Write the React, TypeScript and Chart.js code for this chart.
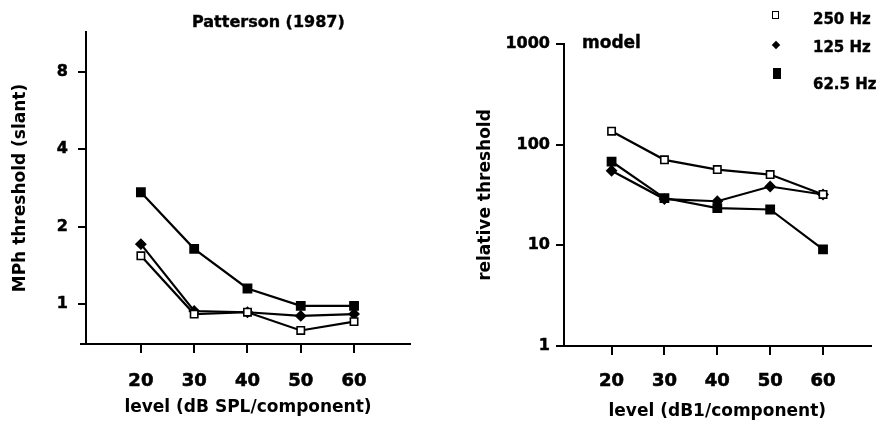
import React, { useEffect, useRef } from 'react';
import { Chart, registerables } from 'chart.js';
Chart.register(...registerables);

// ---- data ----
const levels = [20, 30, 40, 50, 60];
const seriesNames = ['250 Hz', '125 Hz', '62.5 Hz'];
const patterson250 = [1.54, 0.915, 0.93, 0.79, 0.855];
const patterson125 = [1.71, 0.94, 0.93, 0.9, 0.915];
const patterson625 = [2.72, 1.64, 1.15, 0.985, 0.985];
const model250 = [136, 70.7, 56.6, 50.5, 32];
const model125 = [55, 28.8, 27.4, 38.4, 32];
const model625 = [68, 29.5, 23.4, 22.7, 9.1];
const xTickValues = [20, 30, 40, 50, 60];
const pattersonTicks = [1, 2, 4, 8];
const modelTicks = [1, 10, 100, 1000];

const FONT = "'DejaVu Sans', 'Liberation Sans', sans-serif";

function makeDatasets(d250: number[], d125: number[], d625: number[]) {
  const base = {
    borderColor: '#000',
    borderWidth: 2.2,
    pointBorderColor: '#000',
    pointBorderWidth: 1.6,
    tension: 0,
    fill: false,
  };
  return [
    {
      ...base,
      label: seriesNames[0],
      data: levels.map((x, i) => ({ x, y: d250[i] })),
      pointStyle: 'rect',
      pointRadius: 5.2,
      pointBackgroundColor: '#fff',
    },
    {
      ...base,
      label: seriesNames[1],
      data: levels.map((x, i) => ({ x, y: d125[i] })),
      pointStyle: 'rectRot',
      pointRadius: 4.8,
      pointBackgroundColor: '#000',
    },
    {
      ...base,
      label: seriesNames[2],
      data: levels.map((x, i) => ({ x, y: d625[i] })),
      pointStyle: 'rect',
      pointRadius: 5.8,
      pointBackgroundColor: '#000',
    },
  ];
}

// extends the x-axis line a few pixels to the left of the y axis (as in the original figure)
const axisExtend = {
  id: 'axisExtend',
  afterDraw(chart: any, _args: any, opts: any) {
    if (!opts || !opts.extend) return;
    const { ctx, chartArea } = chart;
    ctx.save();
    ctx.strokeStyle = '#000';
    ctx.lineWidth = 2;
    ctx.beginPath();
    ctx.moveTo(chartArea.left - opts.extend, chartArea.bottom);
    ctx.lineTo(chartArea.left, chartArea.bottom);
    ctx.stroke();
    ctx.restore();
  },
};

function makeConfig(p: any) {
  return {
    type: 'line',
    data: { datasets: makeDatasets(p.d250, p.d125, p.d625) },
    plugins: [axisExtend],
    options: {
      responsive: false,
      animation: false,
      devicePixelRatio: 1,
      layout: { padding: { top: p.padTop, right: p.padRight, left: 0, bottom: 0 } },
      plugins: {
        legend: { display: false },
        tooltip: { enabled: false },
        title: { display: false },
        axisExtend: { extend: p.axisExtend },
      },
      scales: {
        x: {
          type: 'linear',
          min: p.xMin,
          max: p.xMax,
          afterBuildTicks: (s: any) => {
            s.ticks = xTickValues.map((v) => ({ value: v }));
          },
          afterFit: (s: any) => {
            s.height = p.xHeight;
          },
          grid: { drawOnChartArea: false, drawTicks: true, tickLength: 9, color: '#000', lineWidth: 2 },
          border: { display: true, color: '#000', width: 2 },
          ticks: {
            color: '#000',
            font: { family: FONT, size: 18, weight: 'bold' },
            padding: p.xTickPad,
            maxRotation: 0,
            autoSkip: false,
            textStrokeColor: '#000',
            textStrokeWidth: 0.6,
            callback: (v: any) => String(v),
          },
          title: {
            display: true,
            text: p.xTitle,
            color: '#000',
            font: { family: FONT, size: 17, weight: 'bold' },
            padding: { top: 0, bottom: p.xTitlePadBottom },
          },
        },
        y: {
          type: 'logarithmic',
          min: p.yMin,
          max: p.yMax,
          afterBuildTicks: (s: any) => {
            s.ticks = p.yTicks.map((v: number) => ({ value: v }));
          },
          afterFit: (s: any) => {
            s.width = p.yWidth;
          },
          grid: { drawOnChartArea: false, drawTicks: true, tickLength: 8, color: '#000', lineWidth: 2 },
          border: { display: true, color: '#000', width: 2 },
          ticks: {
            color: '#000',
            font: { family: FONT, size: 16, weight: 'bold' },
            padding: p.yTickPad,
            autoSkip: false,
            textStrokeColor: '#000',
            textStrokeWidth: 0.5,
            callback: (v: any) => String(v),
          },
          title: {
            display: true,
            text: p.yTitle,
            color: '#000',
            font: { family: FONT, size: 17, weight: 'bold' },
            padding: { top: p.yTitlePad, bottom: 0 },
          },
        },
      },
    },
  } as any;
}

function Panel(props: { params: any; left: number; width: number }) {
  const ref = useRef<HTMLCanvasElement | null>(null);
  useEffect(() => {
    if (!ref.current) return;
    const chart = new Chart(ref.current, makeConfig(props.params));
    return () => chart.destroy();
  }, []);
  return (
    <canvas
      ref={ref}
      width={props.width}
      height={425}
      style={{ position: 'absolute', left: props.left, top: 0, width: props.width, height: 425 }}
    />
  );
}

const leftParams = {
  d250: patterson250,
  d125: patterson125,
  d625: patterson625,
  padTop: 32,
  padRight: 30,
  axisExtend: 6,
  xMin: 9.7,
  xMax: 70.5,
  xHeight: 81,
  xTickPad: 18,
  xTitle: 'level (dB SPL/component)',
  xTitlePadBottom: 7,
  yMin: 0.707,
  yMax: 11.4,
  yTicks: pattersonTicks,
  yWidth: 86,
  yTickPad: 10,
  yTitle: 'MPh threshold (slant)',
  yTitlePad: 10,
};

const rightParams = {
  d250: model250,
  d125: model125,
  d625: model625,
  padTop: 44,
  padRight: 0,
  axisExtend: 0,
  xMin: 11,
  xMax: 69,
  xHeight: 79,
  xTickPad: 16,
  xTitle: 'level (dB1/component)',
  xTitlePadBottom: 3,
  yMin: 1,
  yMax: 1000,
  yTicks: modelTicks,
  yWidth: 124,
  yTickPad: 6,
  yTitle: 'relative threshold',
  yTitlePad: 35,
};

const textStyle: React.CSSProperties = {
  position: 'absolute',
  fontFamily: FONT,
  fontWeight: 'bold',
  color: '#000',
  whiteSpace: 'nowrap',
  lineHeight: 1,
  WebkitTextStroke: '0.4px #000',
};

export default function App() {
  return (
    <div style={{ position: 'absolute', left: 0, top: 0, width: 878, height: 425, background: '#fff', overflow: 'hidden' }}>
      <Panel params={leftParams} left={0} width={440} />
      <Panel params={rightParams} left={440} width={438} />
      <div style={{ ...textStyle, fontSize: 16, left: 192, top: 14 }}>Patterson (1987)</div>
      <div style={{ ...textStyle, fontSize: 17, left: 582, top: 34 }}>model</div>
      {/* legend */}
      <div style={{ position: 'absolute', left: 772, top: 11, width: 5, height: 6, border: '1.5px solid #000', background: '#fff' }} />
      <div style={{ ...textStyle, fontSize: 15, left: 813, top: 12 }}>{seriesNames[0]}</div>
      <div style={{ position: 'absolute', left: 773, top: 42, width: 6, height: 6, background: '#000', transform: 'rotate(45deg)' }} />
      <div style={{ ...textStyle, fontSize: 15, left: 813, top: 40 }}>{seriesNames[1]}</div>
      <div style={{ position: 'absolute', left: 773, top: 68, width: 8, height: 11, background: '#000' }} />
      <div style={{ ...textStyle, fontSize: 15, left: 813, top: 77 }}>{seriesNames[2]}</div>
    </div>
  );
}
